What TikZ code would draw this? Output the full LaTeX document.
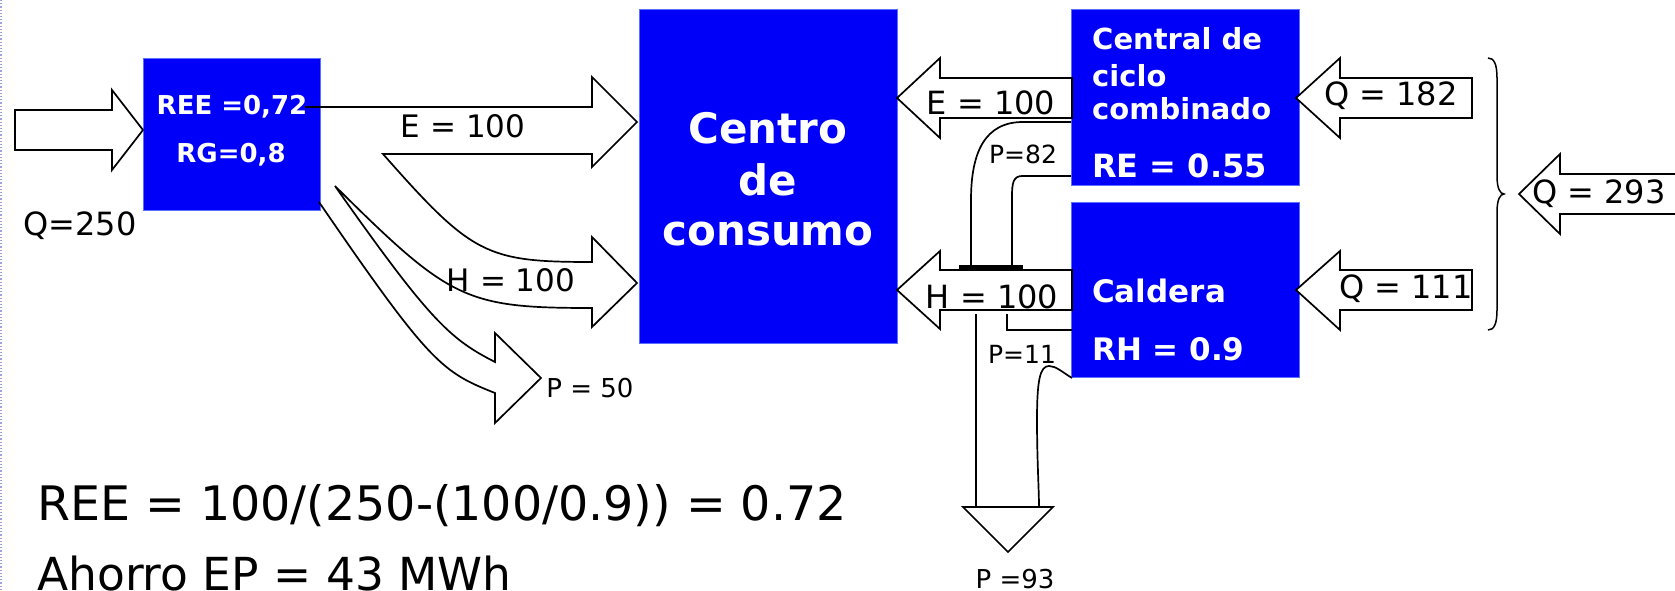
\documentclass[tikz,border=0pt]{standalone}
\usepackage{fontspec}
\setmainfont{DejaVu Sans}
\definecolor{boxblue}{RGB}{0,0,250}
\definecolor{boxedge}{RGB}{90,110,255}
\definecolor{dotline}{RGB}{160,160,230}
\newcommand\fsz[1]{\fontsize{#1}{#1}\selectfont}
\begin{document}
\begin{tikzpicture}[x=1pt,y=-1pt,
  box/.style={fill=boxblue, draw=boxedge, line width=1pt, inner sep=0pt, anchor=north west},
  blk/.style={draw=black, line width=1.7pt, line join=miter},
  lbl/.style={anchor=base, inner sep=0pt, font=\fsz{32}},
  small/.style={anchor=base, inner sep=0pt, font=\fsz{25}},
  wtxt/.style={anchor=base west, inner sep=0pt, text=white, font=\bfseries\fsz{29}},
  big/.style={anchor=base west, inner sep=0pt, font=\fsz{47.5}}]
\useasboundingbox (0,0) rectangle (1675,591);
\clip (0,0) rectangle (1675,591);
\draw[dotline, dotted, line width=1.2pt] (1,0) -- (1,591);

% boxes
\node[box, minimum width=177pt, minimum height=152pt] (ree) at (143,58) {};
\node[box, minimum width=258pt, minimum height=334pt] (centro) at (639,9) {};
\node[box, minimum width=228pt, minimum height=176pt] (central) at (1071,9) {};
\node[box, minimum width=228pt, minimum height=175pt] (caldera) at (1071,202) {};

% input arrow Q=250
\draw[blk, fill=white] (15,110) -- (112,110) -- (112,90) -- (143,130) -- (112,170) -- (112,150) -- (15,150) -- cycle;

% branching arrow E / H / P from REE box
\draw[blk] (305,107) -- (592,107) -- (592,77) -- (637,122) -- (592,167) -- (592,154) -- (383,154)
  .. controls (472,255) and (486,262) .. (592,262) -- (592,237) -- (637,283) -- (592,327) -- (592,308)
  .. controls (465,308) and (450,300) .. (335,186)
  .. controls (430,321) and (450,339) .. (495,362) -- (495,333) -- (541,378) -- (495,423) -- (495,393)
  .. controls (442,372) and (430,364) .. (319,202);

% E arrow from central to centro
\draw[blk, fill=white] (1072,78) -- (940,78) -- (940,58) -- (897,98) -- (940,138) -- (940,118) -- (1072,118) -- cycle;
% H arrow from caldera to centro
\draw[blk, fill=white] (1072,270) -- (940,270) -- (940,251) -- (897,290) -- (940,329) -- (940,310) -- (1072,310) -- cycle;

% P=82 pipe
\draw[blk] (1071,122) -- (1023,122) .. controls (985,122) and (971,152) .. (971,200) -- (971,267);
\draw[blk] (1071,176) -- (1022,176) .. controls (1013,176) and (1012,184) .. (1012,196) -- (1012,267);
\draw[draw=black, line width=3.5pt] (959,267) -- (1023,267);

% P=11 pipes and P=93 arrow
\draw[blk] (976,314) -- (976,507);
\draw[blk] (1007,314) -- (1007,330) -- (1072,330);
\draw[blk] (1072,378) .. controls (1062,372) and (1056,366) .. (1049,366)
  .. controls (1040,366) and (1037,380) .. (1037,420) .. controls (1037,460) and (1039,490) .. (1039,507);
\draw[blk, fill=white] (963,507) -- (1053,507) -- (1008,552) -- cycle;

% Q arrows
\draw[blk, fill=white] (1472,78) -- (1340,78) -- (1340,58) -- (1296,98) -- (1340,138) -- (1340,118) -- (1472,118) -- cycle;
\draw[blk, fill=white] (1472,270) -- (1340,270) -- (1340,251) -- (1296,290) -- (1340,330) -- (1340,310) -- (1472,310) -- cycle;
\draw[blk, fill=white] (1690,174) -- (1560,174) -- (1560,154) -- (1519,194) -- (1560,234) -- (1560,214) -- (1690,214);

% brace
\draw[black, line width=1.5pt] (1488,58) .. controls (1494,58) and (1497,64) .. (1497,78) -- (1497,176)
  .. controls (1497,188) and (1500,194) .. (1504,194) .. controls (1500,194) and (1497,200) .. (1497,212)
  -- (1497,310) .. controls (1497,324) and (1494,330) .. (1488,330);

% texts in boxes
\node[anchor=base, inner sep=0pt, text=white, font=\bfseries\fsz{26}] (t1) at (232,114) {REE =0,72};
\node[anchor=base, inner sep=0pt, text=white, font=\bfseries\fsz{26}] (t2) at (231,162) {RG=0,8};
\node[anchor=base, inner sep=0pt, text=white, font=\bfseries\fsz{42}] (c1) at (768,143) {Centro};
\node[anchor=base, inner sep=0pt, text=white, font=\bfseries\fsz{42}] (c2) at (768,195) {de};
\node[anchor=base, inner sep=0pt, text=white, font=\bfseries\fsz{42}] (c3) at (768,245) {consumo};
\node[wtxt] (k1) at (1092,50) {Central de};
\node[wtxt] (k2) at (1092,87) {ciclo};
\node[wtxt] (k3) at (1092,120) {combinado};
\node[wtxt, font=\bfseries\fsz{32}] (k4) at (1092,177) {RE = 0.55};
\node[wtxt, font=\bfseries\fsz{31}] (k5) at (1092,302) {Caldera};
\node[wtxt, font=\bfseries\fsz{31}] (k6) at (1092,360) {RH = 0.9};

% labels
\node[lbl] (q250) at (80,235) {Q=250};
\node[lbl, font=\fsz{31}] (e1) at (463,138) {E = 100};
\node[lbl, font=\fsz{31}] (h1) at (511,291) {H = 100};
\node[small, font=\fsz{26}] (p50) at (590,397) {P = 50};
\node[lbl] (e2) at (991,115) {E = 100};
\node[lbl] (h2) at (992,308) {H = 100};
\node[small] (p82) at (1023,164) {P=82};
\node[small] (p11) at (1022,363) {P=11};
\node[small, font=\fsz{26}] (p93) at (1015,588) {P =93};
\node[lbl] (q182) at (1391,106) {Q = 182};
\node[lbl] (q111) at (1406,298) {Q = 111};
\node[lbl] (q293) at (1599,203) {Q = 293};

% bottom text
\node[big] (f1) at (37,520) {REE = 100/(250-(100/0.9)) = 0.72};
\node[big, font=\fsz{45.5}] (f2) at (37,590) {Ahorro EP = 43 MWh};
\end{tikzpicture}
\end{document}
